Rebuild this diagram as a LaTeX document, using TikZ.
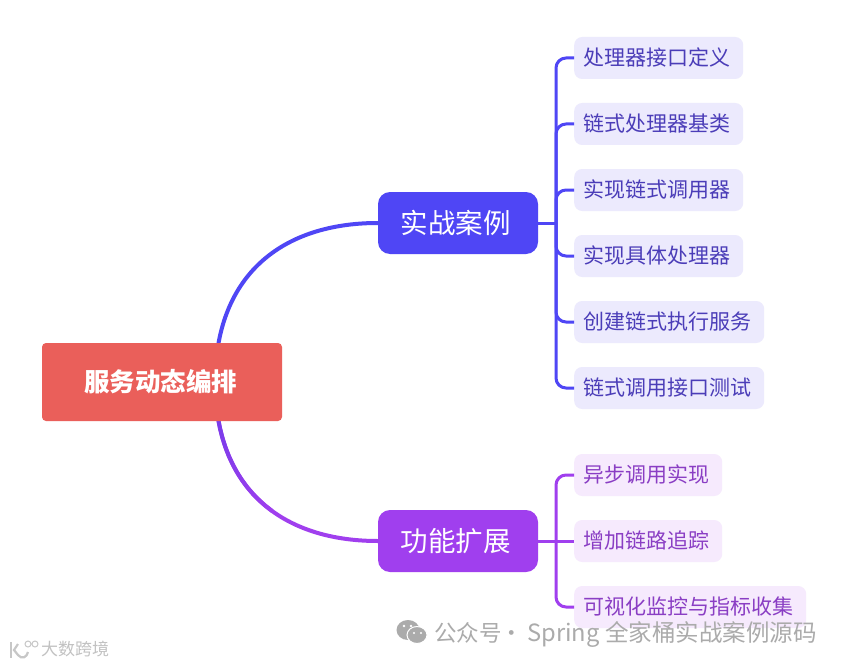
\documentclass[tikz,border=0pt]{standalone}
\usepackage{fontspec}
\setmainfont{Noto Sans CJK SC}
\definecolor{blueM}{HTML}{4F46F5}
\definecolor{purpM}{HTML}{A03FEE}
\definecolor{purpT}{HTML}{7A3CEA}
\definecolor{rootC}{HTML}{EA5F5A}
\definecolor{leafB}{HTML}{ECEAFD}
\definecolor{leafP}{HTML}{F6EAFD}
\definecolor{txtB}{HTML}{4B3DB8}
\definecolor{txtP}{HTML}{8A3EC4}
\definecolor{wm}{HTML}{ABABAB}
\begin{document}
\begin{tikzpicture}[x=1pt,y=-1pt,
  rootbox/.style={fill=rootC,rounded corners=4pt,minimum width=240pt,minimum height=78pt,text=white,font=\fontsize{25.5}{28}\selectfont\bfseries,inner sep=0pt,execute at end node={\hspace*{3pt}}},
  mainbox/.style={rounded corners=12pt,minimum width=160pt,minimum height=62pt,text=white,font=\fontsize{27.5}{30}\selectfont,inner sep=0pt,execute at end node={\hspace*{5pt}}},
  leafbox/.style={rounded corners=8pt,minimum height=42pt,font=\fontsize{21}{24}\selectfont,inner sep=0pt,anchor=west,execute at end node={\hspace*{3.5pt}\rule[-3.6pt]{0pt}{0pt}}},
  bleaf/.style={leafbox,fill=leafB,text=txtB},
  pleaf/.style={leafbox,fill=leafP,text=txtP},
  thick line/.style={line width=4pt,line cap=round},
  branch/.style={line width=3pt,rounded corners=10pt}]
\useasboundingbox (0,0) rectangle (843,666);
\fill[white] (0,0) rectangle (843,666);

% hub nodes
\node[mainbox,fill=blueM] (ma) at (458,223) {实战案例};
\node[mainbox,fill=purpM] (mb) at (458,541) {功能扩展};
\coordinate (rt) at (218,346);
\coordinate (rb) at (218,418);

% curved connectors
\draw[blueM,thick line] (rt) .. controls (232,262) and (295,223) .. (ma.west);
\draw[purpM,thick line] (rb) .. controls (232,502) and (295,541) .. (mb.west);
% start of the lower connector shades from violet to purple
\foreach \i in {0,...,11}{
  \pgfmathsetmacro{\ta}{\i/24}
  \pgfmathsetmacro{\tb}{(\i+1)/24}
  \pgfmathsetmacro{\xa}{(1-\ta)^3*218+3*(1-\ta)^2*\ta*232+3*(1-\ta)*\ta^2*295+\ta^3*378}
  \pgfmathsetmacro{\ya}{(1-\ta)^3*418+3*(1-\ta)^2*\ta*502+3*(1-\ta)*\ta^2*541+\ta^3*541}
  \pgfmathsetmacro{\xb}{(1-\tb)^3*218+3*(1-\tb)^2*\tb*232+3*(1-\tb)*\tb^2*295+\tb^3*378}
  \pgfmathsetmacro{\yb}{(1-\tb)^3*418+3*(1-\tb)^2*\tb*502+3*(1-\tb)*\tb^2*541+\tb^3*541}
  \pgfmathsetmacro{\pc}{\i*100/12}
  \draw[purpM!\pc!purpT,line width=4pt] (\xa,\ya) -- (\xb,\yb);
}
\node[rootbox] (root) at (162,382) {服务动态编排};

% leaves
\node[bleaf,minimum width=169pt] (a1) at (574,58)  {处理器接口定义};
\node[bleaf,minimum width=169pt] (a2) at (574,124) {链式处理器基类};
\node[bleaf,minimum width=169pt] (a3) at (574,190) {实现链式调用器};
\node[bleaf,minimum width=169pt] (a4) at (574,256) {实现具体处理器};
\node[bleaf,minimum width=190pt] (a5) at (574,322) {创建链式执行服务};
\node[bleaf,minimum width=190pt] (a6) at (574,388) {链式调用接口测试};
\node[pleaf,minimum width=148pt] (b1) at (574,475) {异步调用实现};
\node[pleaf,minimum width=148pt] (b2) at (574,541) {增加链路追踪};
\node[pleaf,minimum width=232pt] (b3) at (574,607) {可视化监控与指标收集};

% spines
\coordinate (sa) at (556,223);
\coordinate (sb) at (556,541);
\draw[blueM,line width=3pt] (ma.east) -- (sa);
\foreach \n in {a1,a2,a3,a4,a5,a6}
  \draw[blueM,branch] (sa) |- (\n.west);
\draw[purpM,line width=3pt] (mb.east) -- (b2.west);
\foreach \n in {b1,b3}
  \draw[purpM,branch] (sb) |- (\n.west);

% watermarks
\node[text=wm,anchor=west,inner sep=0pt,font=\fontsize{22.5}{26}\selectfont] (wmtext) at (434,634) {公众号\hspace{-1pt}·\hspace{4pt}{\fontsize{23.7}{26}\selectfont Spring}\hspace{5.5pt}{\fontsize{23.5}{26}\selectfont 全家桶实战案例源码}};
\fill[wm] (408,630) ellipse (11.5pt and 10pt);
\draw[white,fill=wm,line width=1pt] (417,635) ellipse (10pt and 8.5pt);
\fill[white] (404,626) circle (1.4pt) (411,626) circle (1.4pt);
\fill[white] (414,633) circle (1.1pt) (421,633) circle (1.1pt);
\node[text=black!24,anchor=west,inner sep=0pt,font=\fontsize{17}{20}\selectfont] (wmlogo) at (41,649) {大数跨境};
\draw[black!22,line width=2.2pt] (11,642) -- (11,658);
\draw[black!22,line width=2.2pt] (18,644) -- (14,650) -- (18,655) .. controls (22,660) and (27,657) .. (28,652);
\draw[black!22,line width=1pt] (28,644) circle (3pt) (35,644) circle (3pt);
\end{tikzpicture}
\end{document}
